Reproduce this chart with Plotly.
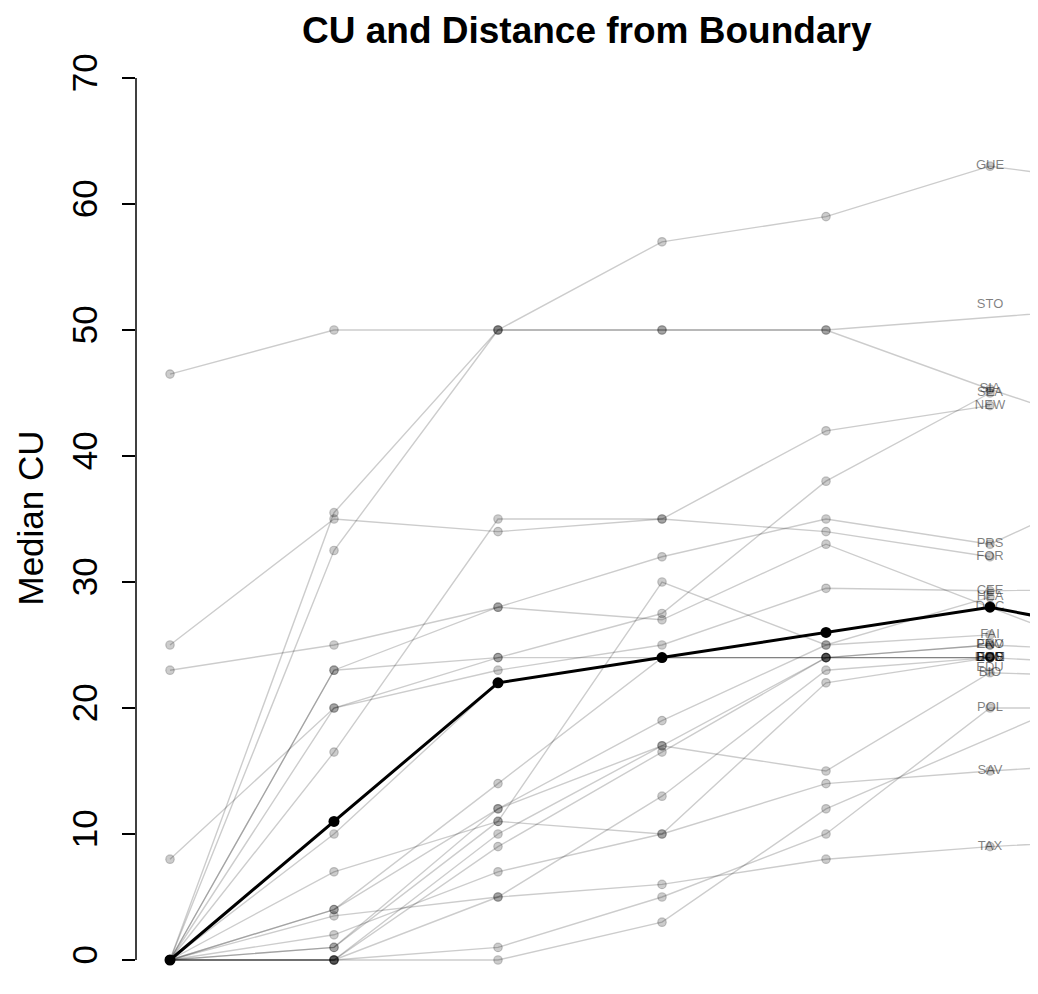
import plotly.graph_objects as go

# distance steps (column positions 1..7; the 7th lies just beyond the right edge)
steps = [1, 2, 3, 4, 5, 6, 7]

# per-department median CU at each step (None = missing)
gue = [0, 35.5, 50, 57, 59, 63, 61.3]
sto = [46.5, 50, 50, 50, 50, None, 52]
sia = [0, 32.5, 50, 50, 50, 45.3, 41]
new = [25, 35, 34, 35, 42, 44, None]
for_ = [0, 16.5, 35, 35, 34, 32, None]
prs = [23, 25, 28, 32, 35, 33, 39]
doc = [0, 23, 28, 27, 33, 28, 23]
sea = [0, 23, 24, 27.5, 38, 45, None]
cee = [0, 20, 23, 25, 29.5, 29.3, 29.5]
eco = [8, 20, 24, 24, 24, 24, None]
hea = [0, 1, 11, 30, 25, 28.8, None]
fai = [0, 4, 12, 19, 25, 25.8, None]
pro = [0, 4, 14, 24, 24, 25, 24.4]
env = [0, 0, 9, 16.5, 24, 25, None]
bus = [0, 0, 5, 13, 23, 24, 23.3]
doe = [0, 7, 11, 10, 22, 24, None]
bio = [0, 1, 12, 17, 15, 22.8, 22.4]
sav = [0, 2, 7, 10, 14, 15, 15.8]
tax = [0, 3.5, 5, 6, 8, 9, 9.7]
pol = [0, 0, 1, 5, 10, 20, 20]
edu = [0, 0, 0, 3, 12, None, 23.2]
ece = [0, 0, 10, 17, 24, 24, None]
dom = [0, 10, 22, 24, 24, 24, None]

median = [0, 11, 22, 24, 26, 28, 25.5]

series = [gue, sto, sia, new, for_, prs, doc, sea, cee, eco, hea, fai, pro,
          env, bus, doe, bio, sav, tax, pol, edu, ece, dom]

labels = ["GUE", "STO", "SIA", "NEW", "FOR", "PRS", "DOC", "SEA", "CEE", "ECO",
          "HEA", "FAI", "PRO", "ENV", "BUS", "DOE", "BIO", "SAV", "TAX", "POL",
          "EDU", "ECE", "DOM"]
label_y = [63, 52, 45.3, 44, 32, 33, 28, 45, 29.3, 24, 28.8, 25.8, 25, 25, 24,
           24, 22.8, 15, 9, 20, 23.2, 24, 24]
label_step = 6

y_ticks = [0, 10, 20, 30, 40, 50, 60, 70]

FONT = "Liberation Sans, Arial, Helvetica, sans-serif"
GRAY = "rgba(0,0,0,0.2)"

fig = go.Figure()
for s in series:
    fig.add_trace(go.Scatter(
        x=steps, y=s, mode="lines+markers", connectgaps=True,
        line=dict(color=GRAY, width=1.4),
        marker=dict(size=8.5, color=GRAY, line=dict(color=GRAY, width=1.2)),
        showlegend=False, hoverinfo="skip"))

fig.add_trace(go.Scatter(
    x=[label_step] * len(labels), y=label_y, mode="text", text=labels,
    textfont=dict(family=FONT, size=13, color="rgba(0,0,0,0.5)"),
    textposition="middle center", showlegend=False, hoverinfo="skip"))

fig.add_trace(go.Scatter(
    x=steps, y=median, mode="lines+markers",
    line=dict(color="black", width=3),
    marker=dict(size=11, color="black"),
    showlegend=False, hoverinfo="skip"))

fig.add_shape(type="line", xref="paper", yref="y", x0=0, x1=0, y0=0, y1=70,
              line=dict(color="black", width=1.5))

fig.add_annotation(text="<b>CU and Distance from Boundary</b>", xref="paper",
                   yref="paper", x=0.5, y=1 + 13 / 951, xanchor="center",
                   yanchor="middle", showarrow=False,
                   font=dict(family=FONT, size=37, color="black"))
fig.add_annotation(text="Median CU", xref="paper", yref="paper",
                   x=-106 / 902, y=0.5, xanchor="center", yanchor="middle",
                   textangle=-90, showarrow=False,
                   font=dict(family=FONT, size=35, color="black"))

# the page body adds an 8 px offset, so margins are shifted to compensate
fig.update_layout(
    width=1038, height=994,
    margin=dict(l=128, r=8, t=35, b=8),
    paper_bgcolor="white", plot_bgcolor="white",
    xaxis=dict(range=[1 - 34 / 164, 1 + 868 / 164], visible=False,
               showgrid=False, zeroline=False),
    yaxis=dict(range=[-34 / 12.6, 70 + 35 / 12.6], tickvals=y_ticks,
               ticktext=[str(v) for v in y_ticks], ticks="outside",
               ticklen=13, tickwidth=1.5, tickcolor="black",
               tickangle=-90, ticklabelstandoff=11,
               tickfont=dict(family=FONT, size=35, color="black"),
               showgrid=False, zeroline=False, showline=False),
)

fig.write_html("out.html")
